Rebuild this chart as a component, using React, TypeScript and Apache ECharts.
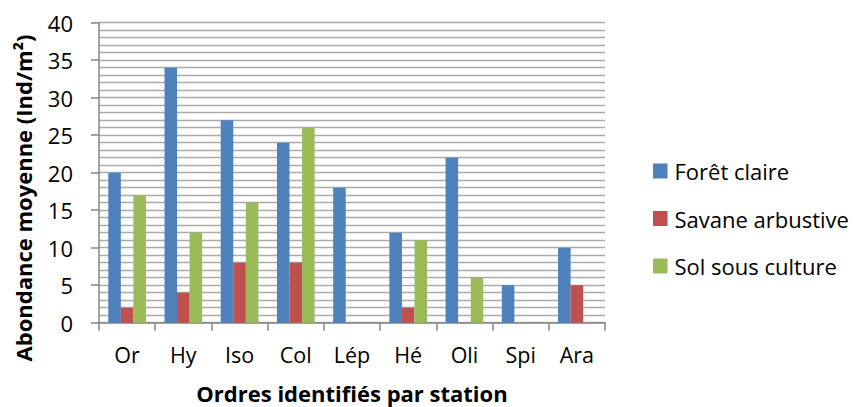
import React, { useEffect, useRef } from "react";
import * as echarts from "echarts";

const categories = ["Or", "Hy", "Iso", "Col", "Lép", "Hé", "Oli", "Spi", "Ara"];
const foretClaire = [20, 34, 27, 24, 18, 12, 22, 5, 10];
const savaneArbustive = [2, 4, 8, 8, 0, 2, 0, 0, 5];
const solSousCulture = [17, 12, 16, 26, 0, 11, 6, 0, 0];
const seriesNames = ["Forêt claire", "Savane arbustive", "Sol sous culture"];
const seriesColors = ["#4F81BD", "#C0504D", "#9BBB59"];
const yTitle = "Abondance moyenne (Ind/m²)";
const xTitle = "Ordres identifiés par station";

const FONT = "'Open Sans', 'Noto Sans', sans-serif";

export default function App() {
  const ref = useRef<HTMLDivElement>(null);
  useEffect(() => {
    document.body.style.margin = "0";
    if (!ref.current) return;
    const chart = echarts.init(ref.current, null, { renderer: "svg" });
    const data = [foretClaire, savaneArbustive, solSousCulture];
    const gridColor = "#ABABAB";
    const axisColor = "#868686";
    chart.setOption({
      animation: false,
      backgroundColor: "#ffffff",
      textStyle: { fontFamily: FONT },
      grid: { left: 99, right: 249, top: 22.7, bottom: 84.3, containLabel: false },
      legend: {
        orient: "vertical",
        left: 648,
        top: 155,
        itemWidth: 14.5,
        itemHeight: 15,
        itemGap: 25.5,
        icon: "rect",
        textStyle: { fontSize: 22, color: "#000", fontFamily: FONT, padding: [0, 0, 0, 2] },
        data: seriesNames,
      },
      xAxis: {
        type: "category",
        data: categories,
        axisLine: { show: true, lineStyle: { color: axisColor, width: 1.5 } },
        axisTick: { show: true, length: 8, lineStyle: { color: axisColor, width: 1.5 } },
        axisLabel: { fontSize: 21.5, color: "#000", margin: 21, fontFamily: FONT },
        splitLine: { show: false },
      },
      yAxis: {
        type: "value",
        min: 0,
        max: 40,
        interval: 5,
        axisLine: { show: true, lineStyle: { color: axisColor, width: 1.5 } },
        axisTick: { show: true, length: 8, lineStyle: { color: axisColor, width: 1.5 } },
        axisLabel: { fontSize: 22, color: "#000", margin: 26, fontFamily: FONT },
        splitLine: { show: true, lineStyle: { color: gridColor, width: 1.3 } },
        minorTick: { show: false, splitNumber: 5 },
        minorSplitLine: { show: true, lineStyle: { color: gridColor, width: 1.3 } },
      },
      graphic: [
        {
          type: "text",
          x: 23,
          y: 198,
          rotation: Math.PI / 2,
          style: {
            text: yTitle,
            fontSize: 22,
            fontWeight: "bold",
            fontFamily: FONT,
            fill: "#000",
            align: "center",
            verticalAlign: "middle",
          },
        },
        {
          type: "text",
          x: 352,
          y: 393,
          style: {
            text: xTitle,
            fontSize: 22,
            fontWeight: "bold",
            fontFamily: FONT,
            fill: "#000",
            align: "center",
            verticalAlign: "middle",
          },
        },
      ],
      series: seriesNames.map((name, i) => ({
        name,
        type: "bar",
        data: data[i],
        barGap: "0%",
        barCategoryGap: "33%",
        itemStyle: { color: seriesColors[i] },
      })),
    });
    return () => chart.dispose();
  }, []);
  return <div ref={ref} style={{ width: 854, height: 407 }} />;
}
